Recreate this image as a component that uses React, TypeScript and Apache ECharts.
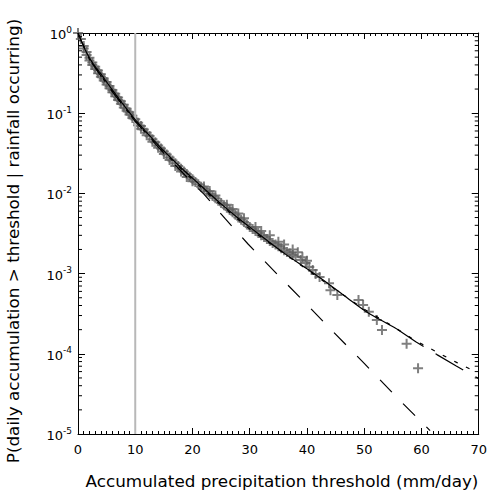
import React, { useEffect, useRef } from "react";
import * as echarts from "echarts";

// Empirical exceedance probabilities (gray crosses), main band
const obsX = [
  0, 0.5, 1, 1.5, 2, 2.5, 3, 3.5, 4, 4.5, 5, 5.5, 6, 6.5, 7, 7.5, 8, 8.5, 9, 9.5,
  10, 10.5, 11, 11.5, 12, 12.5, 13, 13.5, 14, 14.5, 15, 15.5, 16, 16.5, 17, 17.5,
  18, 18.5, 19, 19.5, 20, 20.5, 21, 21.5, 22, 22.5, 23, 23.5, 24, 24.5, 25, 25.5,
  26, 26.5, 27, 27.5, 28, 28.5, 29, 29.5, 30, 30.5, 31, 31.5, 32, 32.5, 33, 33.5,
  34, 34.5, 35, 35.5, 36, 36.5, 37, 37.5, 38,
  38.9, 39.75, 40.4, 41.0, 41.5, 42.2, 43.85, 44.1, 45.3, 49.0, 49.8, 50.8, 52.2,
  53.1, 57.4, 59.4,
];
const obsP = [
  1.0, 0.84, 0.69, 0.58, 0.49, 0.43, 0.38, 0.34, 0.305, 0.27, 0.245, 0.218, 0.195,
  0.175, 0.157, 0.141, 0.127, 0.114, 0.103, 0.093, 0.084, 0.076, 0.069, 0.0625,
  0.057, 0.052, 0.0475, 0.0433, 0.0396, 0.0362, 0.0333, 0.0305, 0.0281, 0.0258,
  0.0238, 0.0219, 0.0203, 0.0188, 0.0174, 0.0161, 0.015, 0.0139, 0.013, 0.0121,
  0.0114, 0.0106, 0.0099, 0.0093, 0.0087, 0.0081, 0.0076, 0.0071, 0.0066, 0.0062,
  0.0058, 0.0054, 0.005, 0.0047, 0.0044, 0.0041, 0.0038, 0.0036, 0.0034, 0.0032,
  0.003, 0.00285, 0.0027, 0.00255, 0.0024, 0.0023, 0.0022, 0.00207, 0.00195,
  0.00186, 0.00178, 0.0017, 0.00162,
  0.00148, 0.00136, 0.00121, 0.00111, 0.00099, 0.00091, 0.00076, 0.00062, 0.00054,
  0.00047, 0.000406, 0.000335, 0.000264, 0.000198, 0.000133, 0.000066,
];
// Scattered crosses along the band edges
const obsEdgeX = [
  1, 1.5, 2, 2.5, 3, 3.5, 4, 4.5, 5, 5.5, 6, 6.5, 7, 7.5, 8, 8.5, 9, 9.5, 10.5, 11, 12, 13, 14, 15, 16, 17, 18, 19, 20,
  22, 23, 24, 26, 27, 28, 29, 31, 32, 33.5, 35, 36, 37.5, 38.4, 39.2, 40,
];
const obsEdgeP = [
  0.64, 0.53, 0.455, 0.4, 0.355, 0.315, 0.285, 0.255, 0.228, 0.205, 0.182, 0.163, 0.146, 0.131, 0.118, 0.107, 0.096, 0.087, 0.071, 0.064, 0.053, 0.044, 0.037, 0.031, 0.026, 0.022, 0.0188, 0.016, 0.0142,
  0.0122, 0.0107, 0.0094, 0.0072, 0.0064, 0.0056, 0.0049, 0.0038, 0.0034, 0.003, 0.0025, 0.0023, 0.002, 0.00185, 0.0016, 0.00145,
];

// Fit A (solid within data range, long dashes beyond)
const fitAX = [0, 1, 2, 3, 4, 5, 6, 8, 10, 12, 15, 18, 20, 22, 25, 28, 30, 33, 36, 40, 43.6, 47, 50.5, 53.9, 55.7];
const fitAP = [1, 0.676, 0.49, 0.38, 0.309, 0.245, 0.195, 0.126, 0.083, 0.0575, 0.0339, 0.0209, 0.0155, 0.0115, 0.0074, 0.0049, 0.0038, 0.0026, 0.0018, 0.00115, 0.00076, 0.0005, 0.00033, 0.00024, 0.000204];
const fitAExtX = [55.7, 59, 62.7, 66, 70];
const fitAExtP = [0.000204, 0.000141, 0.0000977, 0.0000708, 0.000049];

// Fit B (short dashes)
const fitBX = [0, 2, 5, 10, 15, 20, 25, 30, 35, 40, 45, 50, 55, 58.8, 62.7, 66.2, 68.5];
const fitBP = [1, 0.468, 0.234, 0.079, 0.0324, 0.0148, 0.0071, 0.0036, 0.002, 0.00112, 0.00063, 0.00036, 0.00022, 0.000148, 0.000105, 0.0000776, 0.0000646];

// Fit C (long dashes, steeper tail)
const fitCX = [0, 2, 5, 10, 15, 20, 22, 25.75, 29.7, 35, 40, 44.1, 50, 56.2, 60.7, 61.5];
const fitCP = [1, 0.468, 0.229, 0.079, 0.0316, 0.0135, 0.0098, 0.0048, 0.00234, 0.00095, 0.00041, 0.000204, 0.0000759, 0.0000263, 0.0000126, 0.000011];

// Reference threshold
const thresholdX = 10;

const xTicks = [0, 10, 20, 30, 40, 50, 60, 70];
const yDecades = [1e-5, 1e-4, 1e-3, 1e-2, 1e-1, 1];
const minorMult = [2, 3, 4, 5, 6, 7, 8, 9];

export default function App() {
  const ref = useRef<HTMLDivElement>(null);
  useEffect(() => {
    if (!ref.current) return;
    const chart = echarts.init(ref.current, null, { renderer: "svg" });
    const font = "DejaVu Sans";
    const minorVals: number[][] = [];
    yDecades.slice(0, -1).forEach((d) => minorMult.forEach((m) => minorVals.push([0, d * m])));
    const pair = (xs: number[], ys: number[]) => xs.map((x, i) => [x, ys[i]]);
    const cross = "path://M0,4H4V0H6V4H10V6H6V10H4V6H0Z";
    const xMin = xTicks[0];
    const xMax = xTicks[xTicks.length - 1];
    const commonX = {
      type: "value",
      min: xMin,
      max: xMax,
      interval: 10,
      splitLine: { show: false },
      axisLine: { show: true, onZero: false, lineStyle: { color: "#000", width: 1 } },
      axisTick: { show: true, inside: true, length: 6, lineStyle: { color: "#000" } },
      minorTick: { show: true, splitNumber: 10, length: 3, lineStyle: { color: "#000" } },
    };
    const commonY = {
      type: "log",
      logBase: 10,
      min: yDecades[0],
      max: yDecades[yDecades.length - 1],
      splitLine: { show: false },
      axisLine: { show: true, onZero: false, lineStyle: { color: "#000", width: 1 } },
      axisTick: { show: true, inside: true, length: 7, lineStyle: { color: "#000" } },
      minorTick: { show: false },
    };
    const scatterStyle = {
      type: "scatter",
      symbol: cross,
      symbolSize: 10,
      itemStyle: { color: "#5f5f5f" },
      z: 1,
    };
    chart.setOption({
      animation: false,
      backgroundColor: "#fff",
      grid: { left: 78, right: 7, top: 33, bottom: 62, containLabel: false },
      xAxis: [
        {
          ...commonX,
          position: "bottom",
          axisLabel: { show: true, margin: 9, fontSize: 13, color: "#000", fontFamily: font },
        },
        { ...commonX, position: "top", axisLabel: { show: false } },
      ],
      yAxis: [
        {
          ...commonY,
          position: "left",
          axisLabel: {
            show: true,
            margin: 6,
            color: "#000",
            fontFamily: font,
            formatter: (v: number) => {
              const e = Math.round(Math.log10(v));
              return `{b|10}{s|${e}}`;
            },
            rich: {
              b: { fontSize: 13, fontFamily: font, color: "#000", lineHeight: 16, verticalAlign: "bottom" },
              s: { fontSize: 9, fontFamily: font, color: "#000", lineHeight: 16, verticalAlign: "top" },
            },
          },
        },
        { ...commonY, position: "right", axisLabel: { show: false } },
      ],
      graphic: [
        {
          type: "text",
          x: 282,
          y: 482,
          scaleX: 1.12,
          style: {
            text: "Accumulated precipitation threshold (mm/day)",
            fontSize: 15,
            fontFamily: font,
            fill: "#000",
            align: "center",
            verticalAlign: "middle",
          },
        },
        {
          type: "text",
          x: 14,
          y: 241,
          rotation: Math.PI / 2,
          scaleX: 1.12,
          style: {
            text: "P(daily accumulation > threshold | rainfall occurring)",
            fontSize: 15,
            fontFamily: font,
            fill: "#000",
            align: "center",
            verticalAlign: "middle",
          },
        },
      ],
      series: [
        { ...scatterStyle, data: pair(obsX, obsP) },
        { ...scatterStyle, data: pair(obsEdgeX, obsEdgeP) },
        {
          type: "line",
          data: [
            [thresholdX, yDecades[0]],
            [thresholdX, yDecades[yDecades.length - 1]],
          ],
          showSymbol: false,
          lineStyle: { color: "#b8b8b8", width: 2 },
          z: 2,
        },
        {
          type: "line",
          data: pair(fitCX, fitCP),
          showSymbol: false,
          lineStyle: { color: "#000", width: 1.2, type: [17, 16] },
          z: 3,
        },
        {
          type: "line",
          data: pair(fitBX, fitBP),
          showSymbol: false,
          lineStyle: { color: "#000", width: 1.2, type: [4, 9] },
          z: 3,
        },
        {
          type: "line",
          data: pair(fitAX, fitAP),
          showSymbol: false,
          smooth: 0.3,
          lineStyle: { color: "#000", width: 1.2 },
          z: 4,
        },
        {
          type: "line",
          data: pair(fitAExtX, fitAExtP),
          showSymbol: false,
          lineStyle: { color: "#000", width: 1.2, type: [32, 14] },
          z: 4,
        },
        {
          type: "custom",
          data: minorVals,
          silent: true,
          z: 5,
          renderItem: (params: any, api: any) => {
            const v = api.value(1);
            const p1 = api.coord([xMin, v]);
            const p2 = api.coord([xMax, v]);
            return {
              type: "group",
              children: [
                { type: "line", shape: { x1: p1[0], y1: p1[1], x2: p1[0] + 4, y2: p1[1] }, style: { stroke: "#000", lineWidth: 1 } },
                { type: "line", shape: { x1: p2[0] - 4, y1: p2[1], x2: p2[0], y2: p2[1] }, style: { stroke: "#000", lineWidth: 1 } },
              ],
            };
          },
        },
      ],
    });
    return () => chart.dispose();
  }, []);
  return <div ref={ref} style={{ position: "fixed", left: 0, top: 0, width: 490, height: 496 }} />;
}
